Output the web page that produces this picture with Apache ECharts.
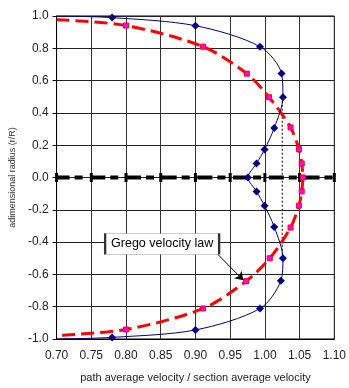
<!DOCTYPE html>
<html>
<head>
<meta charset="utf-8">
<script src="https://cdn.jsdelivr.net/npm/echarts@6/dist/echarts.min.js"></script>
<style>
html,body{margin:0;padding:0;background:#fff;}
#chart{width:349px;height:388px;}
</style>
</head>
<body>
<div id="chart"></div>
<script>
// Path average velocity (blue, measured profile) [x, r/R]
var blueX = [0.70, 0.78, 0.90, 0.993, 1.024, 1.026, 1.0135, 0.9995, 0.988, 0.9756, 0.988, 0.9995, 1.0135, 1.026, 1.023, 0.993, 0.90, 0.78, 0.70];
var blueY = [1.00, 0.99, 0.94, 0.81, 0.644, 0.497, 0.307, 0.173, 0.087, 0.0, -0.086, -0.175, -0.306, -0.50, -0.639, -0.811, -0.944, -0.99, -1.00];
var blueMarked = [false, true, true, true, true, true, true, true, true, true, true, true, true, true, true, true, true, true, false];

// Grego velocity law (red dashed)
var redX = [0.70, 0.80, 0.911, 0.974, 1.006, 1.037, 1.049, 1.053, 1.0546, 1.053, 1.049, 1.037, 1.007, 0.973, 0.911, 0.80, 0.70];
var redY = [0.977, 0.941, 0.81, 0.643, 0.497, 0.31, 0.175, 0.087, 0.0, -0.086, -0.174, -0.31, -0.50, -0.642, -0.811, -0.941, -0.978];
var redMarked = [false, true, true, true, true, true, true, true, true, true, true, true, true, true, true, true, false];

// Centre line (black dash-dot)
var axisLineX = [0.70, 0.75, 0.80, 0.85, 0.90, 0.95, 1.00, 1.05, 1.10];
var axisLineY = [0, 0, 0, 0, 0, 0, 0, 0, 0];

// Dotted vertical reference line
var refX = [1.025, 1.025];
var refY = [0.5, -0.5];

// Annotation
var noteText = 'Grego velocity law';
var noteCenter = [0.852, -0.411];
var arrowFrom = [0.932, -0.475];
var arrowTo = [0.969, -0.636];

var xTickMin = 0.70, xTickMax = 1.10, xTickStep = 0.05;
var yTickMin = -1.0, yTickMax = 1.0, yTickStep = 0.2;

var xName = 'path average velocity / section average velocity';
var yName = 'adimensional radius (r/R)';

function pairs(xs, ys, marked) {
  return xs.map(function (x, i) {
    var d = {value: [x, ys[i]]};
    if (marked && !marked[i]) d.symbol = 'none';
    return d;
  });
}

var FONT = "'Liberation Sans', Arial, sans-serif";
var vbar = 'path://M0,0 L3,0 L3,9 L0,9 Z';

var chart = echarts.init(document.getElementById('chart'), null, {renderer: 'canvas'});
chart.setOption({
  animation: false,
  backgroundColor: '#fff',
  grid: {left: 53.5, right: 10, top: 16, bottom: 45, show: true, borderColor: '#000', borderWidth: 1, backgroundColor: 'transparent'},
  xAxis: {
    type: 'value', min: xTickMin, max: xTickMax, interval: xTickStep,
    name: xName, nameLocation: 'middle', nameGap: 33,
    nameTextStyle: {fontFamily: FONT, fontSize: 11, color: '#222'},
    axisLine: {show: true, onZero: false, lineStyle: {color: '#000', width: 1}},
    axisTick: {show: false},
    axisLabel: {fontFamily: FONT, fontSize: 12, color: '#222', margin: 11,
      formatter: function (v) { return v.toFixed(2); }},
    splitLine: {show: true, lineStyle: {color: '#333', width: 1}}
  },
  yAxis: {
    type: 'value', min: yTickMin, max: yTickMax, interval: yTickStep,
    name: yName, nameLocation: 'middle', nameGap: 30, nameRotate: 90,
    nameTextStyle: {fontFamily: FONT, fontSize: 9, color: '#333'},
    axisLine: {show: true, onZero: false, lineStyle: {color: '#000', width: 1}},
    axisTick: {show: true, length: 4, lineStyle: {color: '#000'}},
    axisLabel: {fontFamily: FONT, fontSize: 12, color: '#222', margin: 8,
      formatter: function (v) { return v.toFixed(1); }},
    splitLine: {show: true, lineStyle: {color: '#222', width: 1}}
  },
  series: [
    {
      type: 'line', name: 'centre',
      data: pairs(axisLineX, axisLineY),
      symbol: vbar, symbolSize: [3, 9], showAllSymbol: true,
      itemStyle: {color: '#000'},
      lineStyle: {color: '#000', width: 4, type: [15, 5, 8, 7.7], dashOffset: 2},
      z: 2
    },
    {
      type: 'line', name: 'ref',
      data: pairs(refX, refY),
      symbol: 'none',
      lineStyle: {color: '#000', width: 1, type: [2, 2]},
      z: 3
    },
    {
      type: 'line', name: 'Grego',
      data: pairs(redX, redY, redMarked),
      smooth: 0.3,
      symbol: 'rect', symbolSize: 5,
      itemStyle: {color: '#ff00ff', borderColor: '#ff0000', borderWidth: 1},
      lineStyle: {color: '#ff0000', width: 3, type: [13, 6]},
      z: 4,
      markPoint: {
        symbol: 'rect', symbolSize: [114, 21],
        itemStyle: {color: '#fff', borderColor: '#333', borderWidth: 1},
        label: {show: true, position: 'inside', formatter: noteText, fontFamily: FONT, fontSize: 12.5, color: '#000'},
        data: [{coord: noteCenter}],
        z: 10
      },
      markLine: {
        silent: true,
        symbol: ['none', 'arrow'], symbolSize: 8,
        lineStyle: {color: '#000', width: 1, type: 'solid'},
        label: {show: false},
        data: [[{coord: arrowFrom}, {coord: arrowTo}]],
        z: 9
      }
    },
    {
      type: 'line', name: 'path',
      data: pairs(blueX, blueY, blueMarked),
      smooth: 0.3,
      symbol: 'diamond', symbolSize: 8,
      itemStyle: {color: '#000080'},
      lineStyle: {color: '#000080', width: 1},
      z: 5
    }
  ]
});
</script>
</body>
</html>
